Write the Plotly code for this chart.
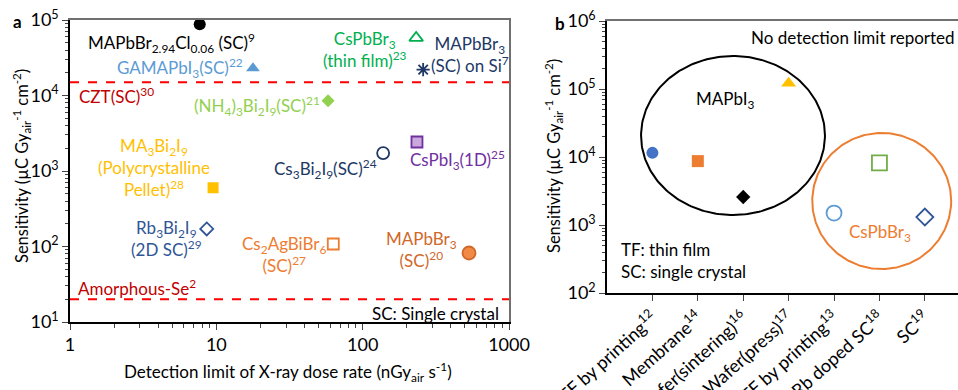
import math
import plotly.graph_objects as go

# ---------------- data: panel a ----------------
a_materials = ["MAPbBr2.94Cl0.06 (SC)", "GAMAPbI3 (SC)", "CsPbBr3 (thin film)",
               "MAPbBr3 (SC) on Si", "(NH4)3Bi2I9 (SC)", "MA3Bi2I9 (pellet)",
               "Rb3Bi2I9 (2D SC)", "Cs3Bi2I9 (SC)", "CsPbI3 (1D)",
               "Cs2AgBiBr6 (SC)", "MAPbBr3 (SC)"]
a_detection_limit = [7.7, 17.8, 232, 259, 58, 9.5, 8.6, 138, 235, 63, 533]
a_sensitivity = [88000, 23000, 58000, 22000, 8500, 600, 171, 1730, 2420, 108, 82]
czt_sensitivity = 15000
se_sensitivity = 20
a_xrange = [1, 1000]
a_xticks = [1, 10, 100, 1000]
a_yticks = [10, 100, 1000, 10000, 100000]

# ---------------- data: panel b ----------------
b_categories = ["TF by printing<sup>12</sup>", "Membrane<sup>14</sup>",
                "Wafer(sintering)<sup>16</sup>", "Wafer(press)<sup>17</sup>",
                "TF by printing<sup>13</sup>", "Rb doped SC<sup>18</sup>", "SC<sup>19</sup>"]
b_position = [1, 2, 3, 4, 5, 6, 7]
b_sensitivity = [11500, 8700, 2580, 122000, 1500, 8200, 1310]
b_yticks = [100, 1000, 10000, 100000, 1000000]

# ---------------- styles ----------------
FONT = "Lato"
a_symbols = ["circle", "triangle-up", "triangle-up-open", "asterisk-open", "diamond",
             "square", "diamond-open", "circle-open", "square", "square-open", "circle"]
a_colors = ["#000000", "#5B9BD5", "#00B050", "#203864", "#92D050", "#FFC000",
            "#2F5597", "#203864", "#C9A8DD", "#ED7D31", "#F08A45"]
a_lines = ["#000000", "#5B9BD5", "#00B050", "#203864", "#92D050", "#FFC000",
           "#2F5597", "#203864", "#7030A0", "#ED7D31", "#D0682A"]
a_sizes = [12, 12, 12, 11, 10, 11, 10, 12, 11, 11, 13]
b_symbols = ["circle", "square", "diamond", "triangle-up", "circle-open", "square-open", "diamond-open"]
b_colors = ["#4472C4", "#ED7D31", "#000000", "#FFC000", "#5B9BD5", "#70AD47", "#2F5597"]
b_sizes = [12, 12, 11, 13, 15, 15, 13]

W, H = 958, 390
ML, MR, MT, MB = 70, 0, 20, 68
PW, PH = W - ML - MR, H - MT - MB
GREY = "#707070"


def px(x, y):
    return (x - ML) / PW, (H - MB - y) / PH


fig = go.Figure()

# reference lines (CZT, amorphous Se)
for val in (czt_sensitivity, se_sensitivity):
    fig.add_trace(go.Scatter(x=a_xrange, y=[val, val], mode="lines", xaxis="x", yaxis="y",
                             hoverinfo="skip",
                             line=dict(color="#FF0000", width=2, dash="dash")))

for i in range(len(a_materials)):
    fig.add_trace(go.Scatter(
        x=[a_detection_limit[i]], y=[a_sensitivity[i]], mode="markers",
        name=a_materials[i], xaxis="x", yaxis="y",
        marker=dict(symbol=a_symbols[i], size=a_sizes[i], color=a_colors[i],
                    line=dict(color=a_lines[i], width=1.8 if "open" in a_symbols[i] or i in (8, 10) else 0))))


# grouping ellipses in panel b (category-axis x, log10 y)
def ellipse(x0, x1, ly0, ly1, n=240):
    cx, cy, rx, ry = (x0 + x1) / 2, (ly0 + ly1) / 2, (x1 - x0) / 2, (ly1 - ly0) / 2
    t = [2 * math.pi * k / n for k in range(n + 1)]
    return [cx + rx * math.cos(a) for a in t], [10 ** (cy + ry * math.sin(a)) for a in t]


for (ex0, ex1, ey0, ey1), col in (((0.75, 4.80, 3.147, 5.485), "black"),
                                  ((4.52, 7.58, 2.353, 4.353), "#ED7D31")):
    ex, ey = ellipse(ex0, ex1, ey0, ey1)
    fig.add_trace(go.Scatter(x=ex, y=ey, mode="lines", xaxis="x2", yaxis="y2", hoverinfo="skip",
                             line=dict(color=col, width=2)))

for i in range(len(b_categories)):
    fig.add_trace(go.Scatter(
        x=[b_position[i]], y=[b_sensitivity[i]], mode="markers",
        xaxis="x2", yaxis="y2",
        marker=dict(symbol=b_symbols[i], size=b_sizes[i], color=b_colors[i],
                    line=dict(color=b_colors[i], width=1.8 if "open" in b_symbols[i] else 0))))

# empty traces to bring up overlay (frame) axes
fig.add_trace(go.Scatter(x=[None], y=[None], xaxis="x3", yaxis="y3", hoverinfo="skip"))
fig.add_trace(go.Scatter(x=[None], y=[None], xaxis="x4", yaxis="y2", hoverinfo="skip"))


def minor_vals(lo, hi):
    return [k * 10 ** e for e in range(lo, hi) for k in range(2, 10)]


def sup_ticks(vals):
    return ["10<sup>%d</sup>" % round(math.log10(v)) for v in vals]


TF = dict(family=FONT, size=18, color="black")
AX = dict(ticks="outside", ticklen=6, tickwidth=1.3, showline=True, linecolor="black",
          linewidth=1.5, showgrid=False, zeroline=False)
FRAME = dict(showline=True, linecolor=GREY, linewidth=1.5, ticks="", showticklabels=False,
             showgrid=False, zeroline=False)
XDOM_A = [0, (509 - ML) / PW]

fig.update_layout(
    width=W, height=H, margin=dict(l=ML, r=MR, t=MT, b=MB, autoexpand=False),
    paper_bgcolor="white", plot_bgcolor="white", showlegend=False,
    font=dict(family=FONT, size=17, color="black"),
    xaxis=dict(type="log", domain=XDOM_A, range=[0, 3],
               tickvals=a_xticks, ticktext=[str(v) for v in a_xticks], tickfont=TF,
               minor=dict(tickvals=minor_vals(0, 3), ticks="outside", ticklen=4, tickwidth=1, showgrid=False),
               **AX),
    yaxis=dict(type="log", domain=[0, 1], range=[1, 5],
               tickvals=a_yticks, ticktext=sup_ticks(a_yticks), tickfont=TF,
               minor=dict(tickvals=minor_vals(1, 5), ticks="outside", ticklen=3, tickwidth=1, showgrid=False),
               **AX),
    xaxis3=dict(type="log", range=[0, 3], overlaying="x", side="top", anchor="y3", **FRAME),
    yaxis3=dict(type="log", range=[1, 5], overlaying="y", side="right", anchor="x3", **FRAME),
    xaxis2=dict(domain=[(607 - ML) / PW, 1], range=[0, 7.73], anchor="y2",
                tickvals=b_position, ticktext=b_categories, tickangle=-42,
                tickfont=dict(family=FONT, size=18, color="black"), automargin=False, **AX),
    xaxis4=dict(range=[0, 7.73], overlaying="x2", side="top", anchor="y2", **FRAME),
    yaxis2=dict(type="log", domain=[(322 - 293) / PH, (322 - 21) / PH], range=[2, 6], anchor="x2",
                tickvals=b_yticks, ticktext=sup_ticks(b_yticks), tickfont=TF,
                minor=dict(tickvals=minor_vals(2, 6), ticks="outside", ticklen=3, tickwidth=1, showgrid=False),
                **AX),
)

NAVY = "#203864"
labels = [
    # text, x px, y px, xanchor, color
    ("MAPbBr<sub>2.94</sub>Cl<sub>0.06</sub> (SC)<sup>9</sup>", 171, 43, "center", "black"),
    ("GAMAPbI<sub>3</sub>(SC)<sup>22</sup>", 245, 68, "right", "#5B9BD5"),
    ("CZT(SC)<sup>30</sup>", 77, 96, "left", "#C00000"),
    ("(NH<sub>4</sub>)<sub>3</sub>Bi<sub>2</sub>I<sub>9</sub>(SC)<sup>21</sup>", 322, 106, "right", "#92D050"),
    ("CsPbBr<sub>3</sub><br>(thin film)<sup>23</sup>", 365, 49, "center", "#00B050"),
    ("MAPbBr<sub>3</sub><br>(SC) on Si<sup>7</sup>", 470, 54, "center", NAVY),
    ("MA<sub>3</sub>Bi<sub>2</sub>I<sub>9</sub><br>(Polycrystalline<br>Pellet)<sup>28</sup>", 154, 168, "center", "#FFC000"),
    ("Rb<sub>3</sub>Bi<sub>2</sub>I<sub>9</sub><br>(2D SC)<sup>29</sup>", 166, 238, "center", "#2F5597"),
    ("Cs<sub>3</sub>Bi<sub>2</sub>I<sub>9</sub>(SC)<sup>24</sup>", 379, 169, "right", NAVY),
    ("CsPbI<sub>3</sub>(1D)<sup>25</sup>", 408, 160, "left", "#7030A0"),
    ("Cs<sub>2</sub>AgBiBr<sub>6</sub><br>(SC)<sup>27</sup>", 284, 254, "center", "#ED7D31"),
    ("MAPbBr<sub>3</sub><br>(SC)<sup>20</sup>", 421, 249, "center", "#D0682A"),
    ("Amorphous-Se<sup>2</sup>", 76, 287, "left", "#C00000"),
    ("SC: Single crystal", 501, 313, "right", "black"),
    ("No detection limit reported", 957, 38, "right", "black"),
    ("MAPbI<sub>3</sub>", 725, 100, "center", "black"),
    ("CsPbBr<sub>3</sub>", 880, 233, "center", "#ED7D31"),
    ("TF: thin film", 619, 249, "left", "black"),
    ("SC: single crystal", 619, 271, "left", "black"),
]
for text, x, y, xa, col in labels:
    px_, py_ = px(x, y)
    fig.add_annotation(text=text, x=px_, y=py_, xref="paper", yref="paper",
                       xanchor=xa, yanchor="middle", showarrow=False, align="center",
                       font=dict(family=FONT, size=17, color=col))

# panel letters
for letter, x, y in (("a", 17, 21), ("b", 560, 23)):
    px_, py_ = px(x, y)
    fig.add_annotation(text="<b>%s</b>" % letter, x=px_, y=py_, xref="paper", yref="paper",
                       xanchor="center", yanchor="middle",
                       showarrow=False, font=dict(family=FONT, size=17, color="black"))

# axis titles
ytitle = "Sensitivity (µC Gy<sub>air</sub><sup>-1</sup> cm<sup>-2</sup>)"
for x, y in ((21, 166), (553, 156)):
    px_, py_ = px(x, y)
    fig.add_annotation(text=ytitle, x=px_, y=py_, xref="paper", yref="paper", textangle=-90,
                       xanchor="center", yanchor="middle",
                       showarrow=False, font=dict(family=FONT, size=16.5, color="black"))
px_, py_ = px(288, 372)
fig.add_annotation(text="Detection limit of X-ray dose rate (nGy<sub>air</sub> s<sup>-1</sup>)",
                   x=px_, y=py_, xref="paper", yref="paper", showarrow=False,
                   xanchor="center", yanchor="middle",
                   font=dict(family=FONT, size=17, color="black"))

fig.write_html("out.html", config={"displayModeBar": False},
               post_script="document.body.style.margin='0px';document.body.style.overflow='hidden';")
